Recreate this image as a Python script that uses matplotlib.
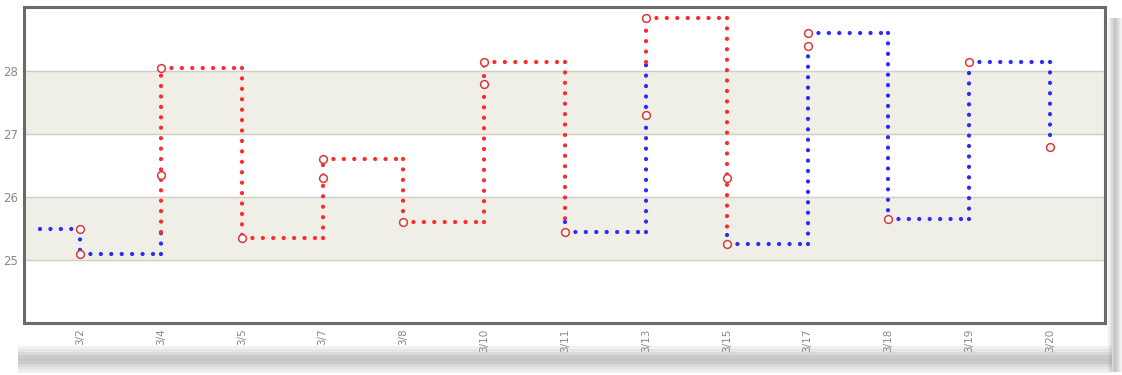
import matplotlib.pyplot as plt
import numpy as np
from matplotlib.patches import Rectangle

# dates on the x axis (one slot each)
dates = ["3/2", "3/4", "3/5", "3/7", "3/8", "3/10", "3/11",
         "3/13", "3/15", "3/17", "3/18", "3/19", "3/20"]

# step level: first value is the level before 3/2, then the level after each date
levels = [25.5, 25.1, 28.05, 25.35, 26.6, 25.6, 28.15,
          25.45, 28.85, 25.25, 28.6, 25.65, 28.15, 26.8]

# colour of each level (same order as levels)
level_colors = ["b", "b", "r", "r", "r", "r", "r",
                "b", "r", "b", "b", "b", "b", "b"]

# where the rising/falling edge on a date changes colour (nan = no change)
color_switch = [np.nan, 25.45, np.nan, np.nan, np.nan, np.nan, 25.6,
                28.15, 25.4, np.nan, np.nan, np.nan, np.nan]

# open circles: the recorded points
point_idx = [0, 0, 1, 1, 2, 3, 3, 4, 5, 5, 6, 7, 7, 8, 8, 9, 9, 10, 11, 12]
point_val = [25.5, 25.1, 28.05, 26.35, 25.35, 26.6, 26.3, 25.6, 28.15, 27.8,
             25.45, 28.85, 27.3, 26.3, 25.25, 28.6, 28.4, 25.65, 28.15, 26.8]

RED = "#ff2b2b"
BLUE = "#2b2bff"
cmap = {"r": RED, "b": BLUE}


def dotted(ax, xs, ys, c):
    ax.plot(xs, ys, color=c, lw=3.1, linestyle=(0, (0.001, 2.42)),
            dash_capstyle="round", solid_capstyle="round", zorder=3)


W, H = 1122, 375
fig = plt.figure(figsize=(W / 100, H / 100), dpi=100)


def px_rect(x0, y0, x1, y1, **kw):
    # rectangle given in pixels from the top-left corner
    fig.patches.append(Rectangle((x0 / W, 1 - y1 / H), (x1 - x0) / W, (y1 - y0) / H,
                                 transform=fig.transFigure, lw=0, **kw))


# paper shadow along the bottom and right edge
shade = [0.10, 0.18, 0.28, 0.38, 0.42, 0.38, 0.28, 0.18, 0.10]
for i, a in enumerate(shade):
    px_rect(18, 346 + i * 3, 1112, 349 + i * 3, color="#777777", alpha=a, zorder=-2)
    px_rect(1108 + i * 1.5, 18, 1109.5 + i * 1.5, 372, color="#777777", alpha=a, zorder=-2)

ax = fig.add_axes([24 / W, 1 - 323 / H, 1081 / W, 316 / H])

ax.axhspan(25, 26, color="#efefe8", zorder=0)
ax.axhspan(27, 28, color="#efefe8", zorder=0)
for y in [25, 26, 27, 28]:
    ax.axhline(y, color="#cfcfc4", lw=1, zorder=1)

# first flat piece before 3/2
dotted(ax, [-0.5, 0], [levels[0], levels[0]], cmap[level_colors[0]])

for i in range(len(dates)):
    lo, hi = levels[i], levels[i + 1]
    c0, c1 = cmap[level_colors[i]], cmap[level_colors[i + 1]]
    sw = color_switch[i]
    if np.isnan(sw):
        dotted(ax, [i, i], [lo, hi], c1)
    else:
        dotted(ax, [i, i], [lo, sw], c0)
        dotted(ax, [i, i], [sw, hi], c1)
    if i + 1 < len(dates):
        dotted(ax, [i, i + 1], [hi, hi], c1)

ax.plot(point_idx, point_val, "o", ms=5.6, mfc="white", mec="#d83a3a",
        mew=1.1, zorder=4)

ax.set_xlim(-0.693, 12.68)
ax.set_ylim(24.0, 29.02)
ax.set_xticks(range(len(dates)))
ax.set_xticklabels(dates, rotation=90, fontsize=7.5, color="#8a8a80")
ax.set_yticks([25, 26, 27, 28])
ax.set_yticklabels(["25", "26", "27", "28"], fontsize=8.5, color="#8a8a80")
ax.tick_params(length=0, pad=4)

for s in ax.spines.values():
    s.set_color("#6a6a6a")
    s.set_linewidth(2.2)

fig.savefig("out.png", dpi=100)
